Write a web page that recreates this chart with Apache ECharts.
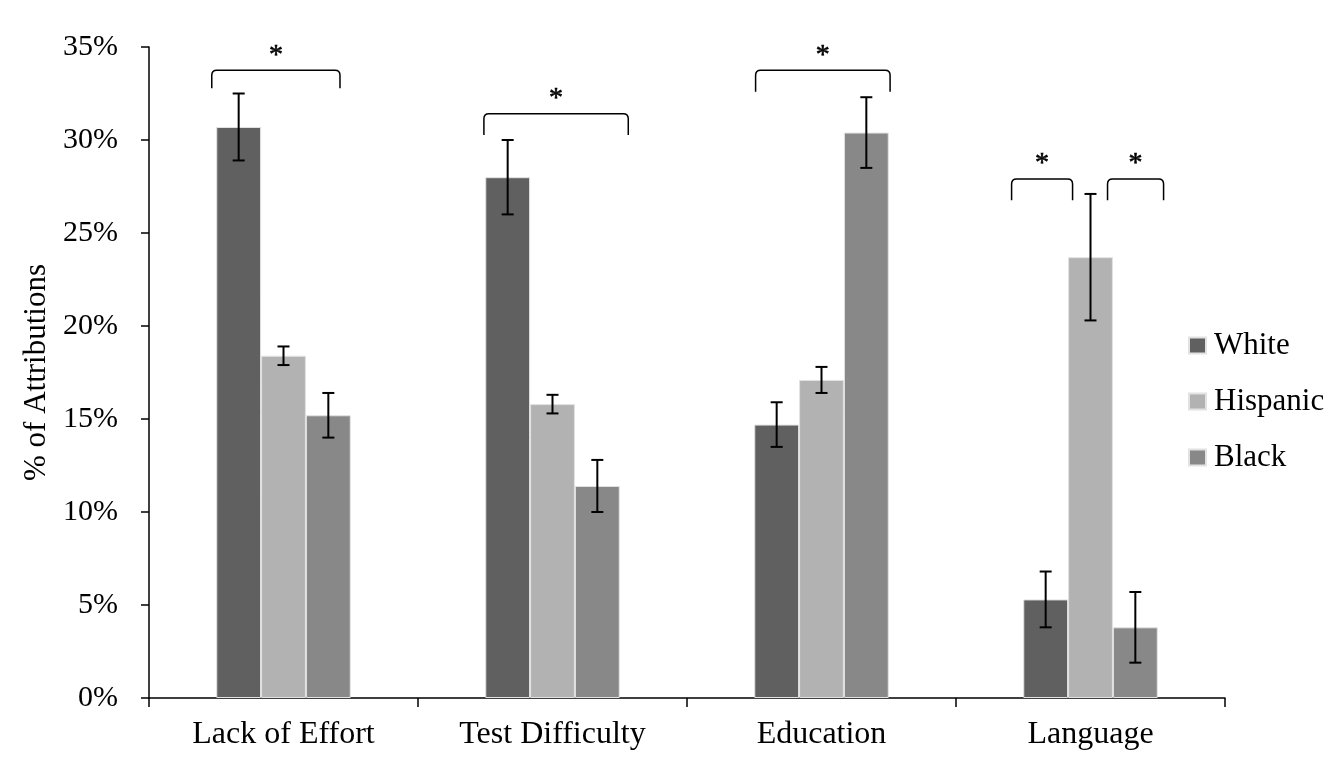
<!DOCTYPE html>
<html><head><meta charset="utf-8">
<script src="https://cdn.jsdelivr.net/npm/echarts@6/dist/echarts.min.js"></script>
<style>html,body{margin:0;padding:0;background:#fff}#c{width:1342px;height:778px}</style>
</head><body><div id="c"></div>
<script>
const categories = ['Lack of Effort', 'Test Difficulty', 'Education', 'Language'];
const groups = ['White', 'Hispanic', 'Black'];
const white = [30.7, 28.0, 14.7, 5.3];
const hispanic = [18.4, 15.8, 17.1, 23.7];
const black = [15.2, 11.4, 30.4, 3.8];
const whiteErr = [1.8, 2.0, 1.2, 1.5];
const hispanicErr = [0.5, 0.5, 0.7, 3.4];
const blackErr = [1.2, 1.4, 1.9, 1.9];
const yTicks = [0, 5, 10, 15, 20, 25, 30, 35];
// significance annotations: [category index, from (bar units), to (bar units), bracket top %, leg bottom %]
const brackets = [
  [0, -1.6, 1.26, 33.75, 32.78],
  [1, -1.53, 1.69, 31.41, 30.27],
  [2, -1.47, 1.53, 33.75, 32.6],
  [3, -1.76, -0.40, 27.9, 26.76],
  [3, 0.38, 1.63, 27.9, 26.76]
];

const FONT = '"Liberation Serif", "Times New Roman", serif';
const colors = ['#606060', '#b2b2b2', '#888888'];
const values = [white, hispanic, black];
const errs = [whiteErr, hispanicErr, blackErr];

function barW(api) { return api.size([1, 0])[0] * 0.5 / 3; }

function errRender(k) {
  return function (params, api) {
    const i = api.value(0), lo = api.value(1), hi = api.value(2);
    const bw = barW(api);
    const cx = api.coord([i, 0])[0] + (k - 1) * bw;
    const pHi = api.coord([i, hi])[1], pLo = api.coord([i, lo])[1];
    const cap = 6;
    const style = { stroke: '#000', lineWidth: 2, fill: null };
    return { type: 'group', children: [
      { type: 'line', shape: { x1: cx, y1: pHi, x2: cx, y2: pLo }, style },
      { type: 'line', shape: { x1: cx - cap, y1: pHi, x2: cx + cap, y2: pHi }, style },
      { type: 'line', shape: { x1: cx - cap, y1: pLo, x2: cx + cap, y2: pLo }, style }
    ]};
  };
}

function bracketRender(params, api) {
  const i = api.value(0), a = api.value(1), b = api.value(2), top = api.value(3), bot = api.value(4);
  const bw = barW(api);
  const c = api.coord([i, top]);
  const x0 = c[0] + a * bw, x1 = c[0] + b * bw, yt = c[1], yb = api.coord([i, bot])[1];
  const r = 5;
  return { type: 'group', children: [
    { type: 'path', shape: { pathData: 'M' + x0 + ' ' + yb + ' L' + x0 + ' ' + (yt + r) + ' Q' + x0 + ' ' + yt + ' ' + (x0 + r) + ' ' + yt +
        ' L' + (x1 - r) + ' ' + yt + ' Q' + x1 + ' ' + yt + ' ' + x1 + ' ' + (yt + r) + ' L' + x1 + ' ' + yb },
      style: { fill: null, stroke: '#000', lineWidth: 1.5 } },
    { type: 'text', x: (x0 + x1) / 2, y: yt - 1,
      style: { text: '*', fill: '#000', stroke: '#000', lineWidth: 0.6, fontSize: 28, fontFamily: FONT, align: 'center', verticalAlign: 'bottom' } }
  ]};
}

const series = [];
groups.forEach((g, k) => {
  series.push({
    name: g, type: 'bar', data: values[k], barGap: '0%', barCategoryGap: '50%',
    itemStyle: { color: colors[k], borderColor: '#e2e2e2', borderWidth: 1 },
    emphasis: { disabled: true }, z: 2
  });
});
groups.forEach((g, k) => {
  series.push({
    type: 'custom', silent: true, z: 5,
    data: values[k].map((v, i) => [i, v - errs[k][i], v + errs[k][i]]),
    renderItem: errRender(k)
  });
});
series.push({ type: 'custom', silent: true, z: 5, data: brackets, renderItem: bracketRender, clip: false });

const chart = echarts.init(document.getElementById('c'), null, { renderer: 'canvas' });
chart.setOption({
  animation: false,
  backgroundColor: '#fff',
  color: colors,
  grid: { left: 149, right: 117, top: 47, bottom: 80, containLabel: false },
  legend: {
    data: groups, orient: 'vertical', left: 1188, top: 330, padding: 0,
    itemWidth: 17, itemHeight: 16, itemGap: 25, icon: 'rect',
    textStyle: { fontSize: 31, fontFamily: FONT, color: '#000', padding: [0, 0, 0, 3] }
  },
  xAxis: {
    type: 'category', data: categories,
    axisLine: { lineStyle: { color: '#000', width: 1.5 } },
    axisTick: { show: true, length: 9, lineStyle: { color: '#000', width: 1.5 } },
    axisLabel: { color: '#000', fontSize: 32, fontFamily: FONT, margin: 21 },
    splitLine: { show: false }
  },
  yAxis: {
    type: 'value', min: yTicks[0], max: yTicks[yTicks.length - 1], interval: 5,
    name: '% of Attributions', nameLocation: 'middle', nameGap: 93,
    nameTextStyle: { color: '#000', fontSize: 31, fontFamily: FONT },
    axisLine: { show: true, lineStyle: { color: '#000', width: 1.5 } },
    axisTick: { show: true, length: 8, lineStyle: { color: '#000', width: 1.5 } },
    axisLabel: { color: '#000', fontSize: 30, fontFamily: FONT, margin: 31, formatter: '{value}%' },
    splitLine: { show: false }
  },
  series: series
});
</script></body></html>
